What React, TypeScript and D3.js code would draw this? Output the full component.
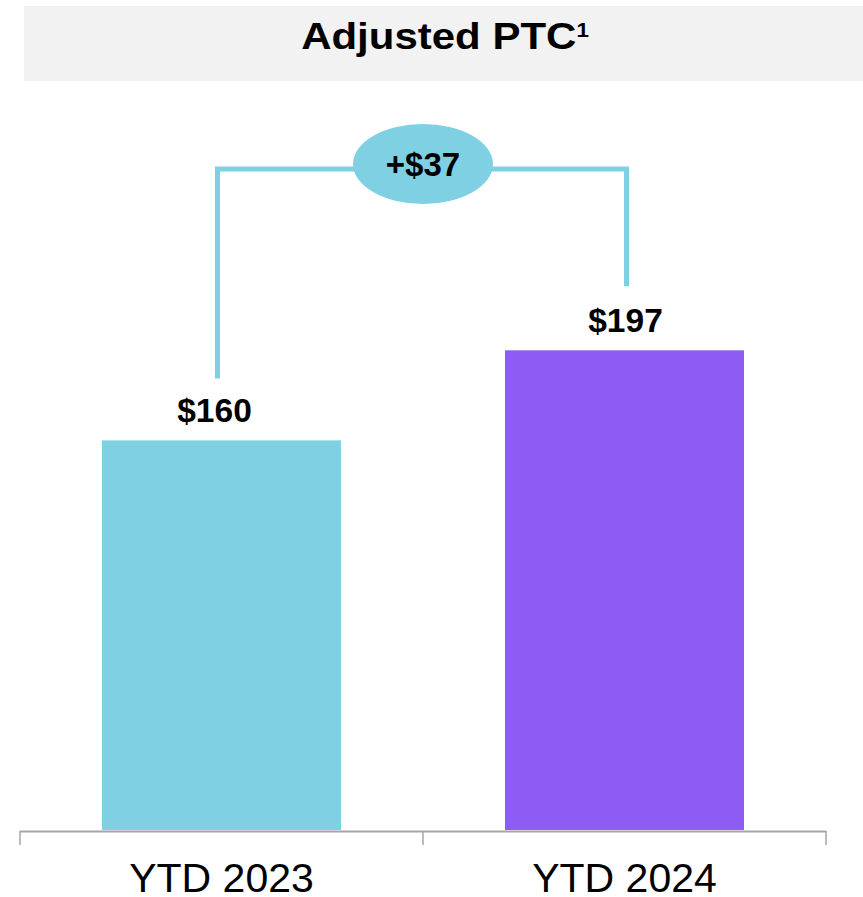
import React from "react";
import * as d3 from "d3";

const categories = ["YTD 2023", "YTD 2024"];
const values = [160, 197];
const valueLabels = ["$160", "$197"];
const deltaLabel = "+$37";
const title = "Adjusted PTC";
const titleSup = "1";
const colors = ["#80D0E3", "#8C5CF4"];

const W = 863;
const H = 897;
const labelDx = [-7, 1];

export default function App() {
  const x = d3
    .scaleBand<string>()
    .domain(categories)
    .range([20, 826])
    .paddingInner(0.407)
    .paddingOuter(0.2035);
  const y = d3.scaleLinear().domain([0, 200]).range([830, 343]);
  const font = "'Liberation Sans', Arial, sans-serif";
  const cx = (c: string) => (x(c) as number) + x.bandwidth() / 2;
  const c0 = cx(categories[0]);
  const c1 = cx(categories[1]);
  const bracketY = 169;
  const midX = (c0 + c1) / 2;
  const bracketPath = d3.path();
  bracketPath.moveTo(c0 - 4, y(values[0]) - 62);
  bracketPath.lineTo(c0 - 4, bracketY);
  bracketPath.lineTo(c1 + 2, bracketY);
  bracketPath.lineTo(c1 + 2, y(values[1]) - 64);
  const tickXs = [20, 20 + x.step(), 20 + 2 * x.step()];
  return (
    <svg
      width={W}
      height={H}
      style={{ position: "absolute", left: 0, top: 0 }}
      fontFamily={font}
    >
      <rect x={24} y={6} width={W - 24} height={75} fill="#F2F2F2" />
      <text
        transform="translate(445,49) scale(1.12,1)"
        textAnchor="middle"
        fontSize={37.5}
        fontWeight="bold"
        fill="#000"
      >
        {title}
        <tspan fontSize={20} dy={-12}>{titleSup}</tspan>
      </text>
      {categories.map((c, i) => (
        <rect
          key={c}
          x={x(c)}
          y={y(values[i])}
          width={x.bandwidth()}
          height={y(0) - y(values[i])}
          fill={colors[i]}
        />
      ))}
      {categories.map((c, i) => (
        <text
          key={c + "l"}
          x={cx(c) + labelDx[i]}
          y={y(values[i]) - 18}
          textAnchor="middle"
          fontSize={33.5}
          fontWeight="bold"
          fill="#000"
        >
          {valueLabels[i]}
        </text>
      ))}
      <path d={bracketPath.toString()} fill="none" stroke={colors[0]} strokeWidth={5} />
      <ellipse cx={midX} cy={164} rx={70} ry={40} fill={colors[0]} />
      <text x={midX} y={176} textAnchor="middle" fontSize={33} fontWeight="bold" fill="#000">
        {deltaLabel}
      </text>
      <line x1={20} x2={826} y1={831.5} y2={831.5} stroke="#A6A6A6" strokeWidth={2} />
      {tickXs.map((t) => (
        <line key={t} x1={t} x2={t} y1={831} y2={845} stroke="#A6A6A6" strokeWidth={1.5} />
      ))}
      {categories.map((c) => (
        <text key={c + "x"} x={cx(c)} y={892} textAnchor="middle" fontSize={41} fill="#000">
          {c}
        </text>
      ))}
    </svg>
  );
}
